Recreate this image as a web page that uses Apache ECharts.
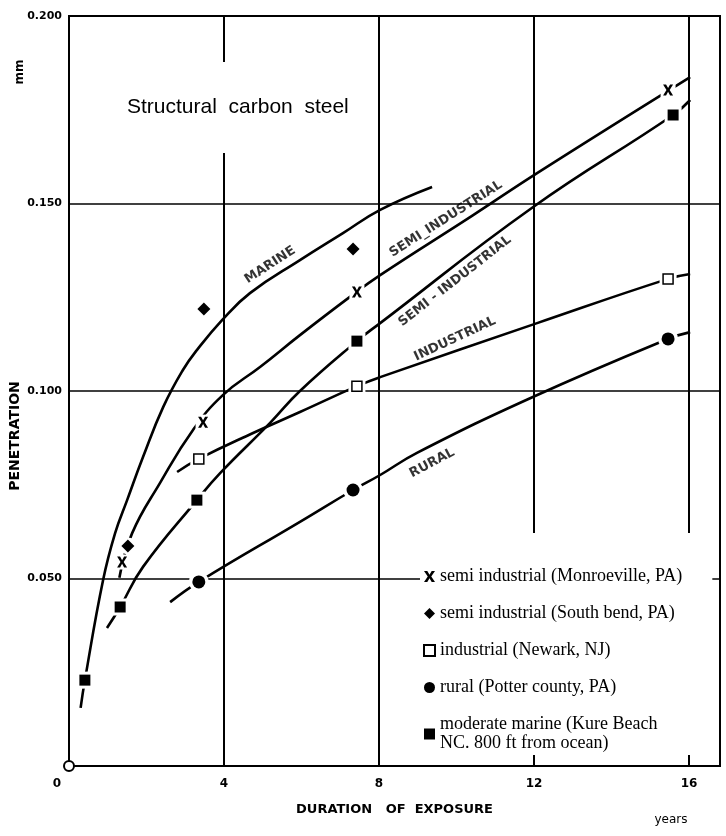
<!DOCTYPE html>
<html>
<head>
<meta charset="utf-8">
<script src="https://cdn.jsdelivr.net/npm/echarts@6/dist/echarts.min.js"></script>
<style>
html,body{margin:0;padding:0;background:#fff;}
#chart{width:726px;height:836px;}
</style>
</head>
<body>
<div id="chart"></div>
<script>
// ---------- tick labels ----------
const xTickLabels = [0, 4, 8, 12, 16];
const yTickLabels = ['0.050', '0.100', '0.150', '0.200'];

// ---------- legend / series names ----------
const nameMonroeville = 'semi industrial (Monroeville, PA)';
const nameSouthBend = 'semi industrial (South bend, PA)';
const nameNewark = 'industrial (Newark, NJ)';
const namePotter = 'rural (Potter county, PA)';
const nameKure = 'moderate marine (Kure Beach\nNC. 800 ft from ocean)';

// ---------- measured points [years, mm] ----------
const monroevilleX = [[1.37, 0.0544], [3.46, 0.0917], [7.43, 0.1264], [15.46, 0.1803]];
const southBendDiamond = [[1.52, 0.0587], [3.48, 0.1219], [7.33, 0.1379]];
const newarkOpenSquare = [[3.35, 0.0819], [7.43, 0.1013], [15.46, 0.1299]];
const potterCircle = [[3.35, 0.0491], [7.33, 0.0736], [15.46, 0.1139]];
const kureSquare = [[0.41, 0.0229], [1.32, 0.0424], [3.30, 0.0709], [7.43, 0.1133], [15.59, 0.1736]];
const origin = [[0, 0]];

// ---------- fitted curves [years, mm] ----------
const marineCurve = [[0.30, 0.0155], [0.41, 0.0229], [0.88, 0.0496], [1.19, 0.0621], [1.50, 0.0709],
  [1.91, 0.0824], [2.43, 0.0957], [2.94, 0.1056], [3.30, 0.1109], [3.95, 0.1189], [4.67, 0.1261],
  [5.96, 0.1349], [7.07, 0.1421], [8.03, 0.1483], [9.37, 0.1544]];
const semiIndustrialCurveA = [[1.30, 0.0502], [1.63, 0.0621], [2.35, 0.0755], [3.20, 0.0896],
  [3.97, 0.0989], [4.93, 0.1064], [5.96, 0.1149], [7.25, 0.1251], [8.03, 0.1309], [10.43, 0.1469],
  [12.08, 0.1581], [16.03, 0.1837]];
const semiIndustrialCurveB = [[0.98, 0.0368], [1.32, 0.0424], [1.91, 0.0531], [3.30, 0.0709],
  [3.90, 0.0781], [5.19, 0.0915], [5.96, 0.1000], [7.43, 0.1133], [8.03, 0.1181], [11.97, 0.1490],
  [15.59, 0.1736], [16.03, 0.1776]];
const industrialCurve = [[2.79, 0.0784], [3.35, 0.0819], [4.75, 0.0888], [5.96, 0.0944], [7.43, 0.1013],
  [8.03, 0.1037], [12.08, 0.1181], [15.46, 0.1299], [16.03, 0.1312]];
const ruralCurve = [[2.61, 0.0437], [3.35, 0.0491], [5.96, 0.0651], [7.33, 0.0736], [8.03, 0.0776],
  [8.98, 0.0835], [11.97, 0.0984], [15.46, 0.1139], [16.03, 0.1157]];

// ---------- curve captions ----------
const curveCaptionText = ['MARINE', 'SEMI_INDUSTRIAL', 'SEMI - INDUSTRIAL', 'INDUSTRIAL', 'RURAL'];

// layout of the captions (data-space anchor + rotation), kept apart from the data
const captionLayout = [
  { at: [5.19, 0.1336], rotate: 33 },
  { at: [9.73, 0.1459], rotate: 32.5 },
  { at: [9.96, 0.1293], rotate: 38 },
  { at: [9.96, 0.1139], rotate: 25 },
  { at: [9.37, 0.0808], rotate: 28 }
];

const INK = '#000';
const handFont = 'DejaVu Sans';
const xSymbol = 'path://M0,0H3L5,3.3L7,0H10L6.6,5L10,10H7L5,6.7L3,10H0L3.4,5Z';

function curve(data) {
  return {
    type: 'line', data: data, smooth: 0.45, showSymbol: false, silent: true, z: 2,
    lineStyle: { color: INK, width: 2.6 }, clip: false
  };
}
function halo(data, symbol, size) {
  return {
    type: 'scatter', data: data, symbol: symbol, symbolSize: size, silent: true, z: 3,
    itemStyle: { color: '#fff', opacity: 1 }, clip: false
  };
}
function markers(name, data, symbol, size, style) {
  return {
    name: name, type: 'scatter', data: data, symbol: symbol, symbolSize: size, z: 4, clip: false,
    itemStyle: Object.assign({ color: INK, opacity: 1 }, style || {})
  };
}

const captionSeries = {
  type: 'scatter', silent: true, z: 5, symbolSize: 1, clip: false,
  itemStyle: { color: 'rgba(0,0,0,0)' },
  data: curveCaptionText.map(function (t, i) {
    return {
      value: captionLayout[i].at,
      label: {
        show: true, position: 'inside', formatter: t, rotate: captionLayout[i].rotate,
        color: INK, fontFamily: handFont, fontWeight: 'bold', fontSize: 13
      }
    };
  })
};

const chart = echarts.init(document.getElementById('chart'), null, { renderer: 'canvas' });
chart.setOption({
  animation: false,
  backgroundColor: '#fff',
  title: {
    text: 'Structural  carbon  steel',
    left: 123, top: 62,
    padding: [35, 4, 35, 4],
    backgroundColor: '#fff',
    textStyle: { fontFamily: 'Liberation Sans', fontWeight: 'normal', fontSize: 21, color: INK }
  },
  legend: {
    orient: 'vertical', left: 420, top: 533,
    padding: [34, 30, 2, 3],
    itemGap: 18, itemWidth: 11, itemHeight: 11,
    backgroundColor: '#fff',
    textStyle: { fontFamily: 'Liberation Serif', fontSize: 18, lineHeight: 19, color: INK },
    data: [nameMonroeville, nameSouthBend, nameNewark, namePotter, nameKure]
  },
  grid: {
    left: 69, right: 6, top: 16, bottom: 70, show: true, borderColor: INK, borderWidth: 2,
    containLabel: false, outerBoundsMode: 'none'
  },
  xAxis: {
    type: 'value', min: 0, max: 16.8, interval: 4,
    axisLine: { show: true, lineStyle: { color: INK, width: 2 } },
    axisTick: { show: false },
    splitLine: { show: true, lineStyle: { color: INK, width: 2 } },
    axisLabel: {
      margin: 12, color: INK, fontFamily: handFont, fontWeight: 'bold', fontSize: 12,
      formatter: function (v) {
        if (xTickLabels.indexOf(v) < 0) return '';
        return v === 0 ? '{z|0}' : String(v);
      },
      rich: { z: { padding: [0, 24, 0, 0], color: INK, fontFamily: handFont, fontWeight: 'bold', fontSize: 12 } }
    },
    name: 'DURATION   OF  EXPOSURE', nameLocation: 'middle', nameGap: 37, nameMoveOverlap: false,
    nameTextStyle: { color: INK, fontFamily: handFont, fontWeight: 'bold', fontSize: 13 }
  },
  yAxis: {
    type: 'value', min: 0, max: 0.2, interval: 0.05,
    axisLine: { show: true, lineStyle: { color: INK, width: 2 } },
    axisTick: { show: false },
    splitLine: { show: true, lineStyle: { color: INK, width: 1.6 } },
    axisLabel: {
      margin: 7, color: INK, fontFamily: handFont, fontWeight: 'bold', fontSize: 11,
      formatter: function (v) {
        const s = v.toFixed(3);
        return yTickLabels.indexOf(s) >= 0 ? s : '';
      }
    },
    name: 'PENETRATION', nameLocation: 'middle', nameRotate: 90, nameGap: 47, nameMoveOverlap: false,
    nameTextStyle: { color: INK, fontFamily: handFont, fontWeight: 'bold', fontSize: 14, padding: [0, 90, 0, 0] }
  },
  graphic: [
    { type: 'text', x: 20, y: 72, rotation: Math.PI / 2,
      style: { text: 'mm', fill: INK, font: 'bold 12px "DejaVu Sans"', align: 'center', verticalAlign: 'middle' } },
    { type: 'text', x: 671, y: 820,
      style: { text: 'years', fill: INK, font: '12px "DejaVu Sans"', align: 'center', verticalAlign: 'middle' } }
  ],
  series: [
    curve(marineCurve),
    curve(semiIndustrialCurveA),
    curve(semiIndustrialCurveB),
    curve(industrialCurve),
    curve(ruralCurve),
    halo(monroevilleX, 'rect', 15),
    halo(southBendDiamond, 'circle', 17),
    halo(newarkOpenSquare, 'rect', 17),
    halo(potterCircle, 'circle', 20),
    halo(kureSquare, 'rect', 17),
    markers(nameMonroeville, monroevilleX, xSymbol, [10, 11]),
    markers(nameSouthBend, southBendDiamond, 'diamond', 13),
    markers(nameNewark, newarkOpenSquare, 'rect', 10, { color: '#fff', borderColor: INK, borderWidth: 1.5 }),
    markers(namePotter, potterCircle, 'circle', 13),
    markers(nameKure, kureSquare, 'rect', 11),
    {
      type: 'scatter', data: origin, symbol: 'circle', symbolSize: 10, z: 5, clip: false, silent: true,
      itemStyle: { color: '#fff', borderColor: INK, borderWidth: 2, opacity: 1 }
    },
    captionSeries
  ]
});
</script>
</body>
</html>
